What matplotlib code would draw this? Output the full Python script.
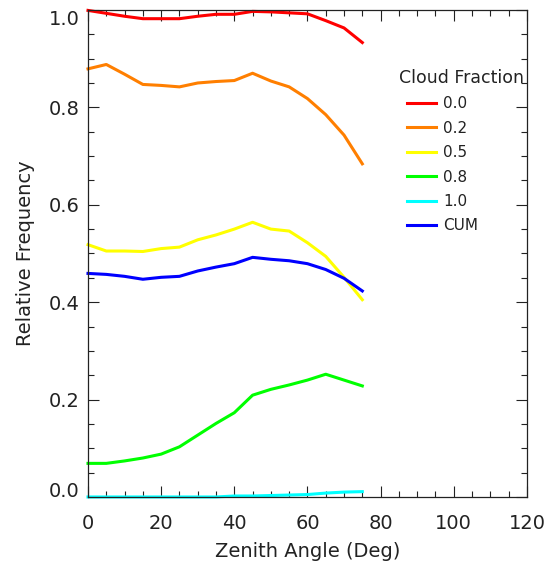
import matplotlib
matplotlib.use("Agg")
import matplotlib.pyplot as plt
from matplotlib.ticker import MultipleLocator

zenith = [0, 5, 10, 15, 20, 25, 30, 35, 40, 45, 50, 55, 60, 65, 70, 75]
cf_00 = [0.999, 0.993, 0.987, 0.982, 0.982, 0.982, 0.987, 0.991, 0.991, 0.997, 0.996, 0.994, 0.992, 0.978, 0.963, 0.933]
cf_02 = [0.879, 0.888, 0.868, 0.847, 0.845, 0.842, 0.850, 0.853, 0.855, 0.870, 0.854, 0.842, 0.818, 0.785, 0.743, 0.684]
cf_05 = [0.518, 0.505, 0.505, 0.504, 0.510, 0.513, 0.528, 0.538, 0.550, 0.564, 0.550, 0.546, 0.522, 0.494, 0.451, 0.405]
cf_08 = [0.069, 0.069, 0.074, 0.080, 0.088, 0.103, 0.127, 0.151, 0.173, 0.209, 0.221, 0.230, 0.240, 0.252, 0.240, 0.228]
cf_10 = [0.000, 0.000, 0.000, 0.000, 0.000, 0.000, 0.000, 0.000, 0.002, 0.002, 0.003, 0.004, 0.005, 0.008, 0.010, 0.011]
cf_cum = [0.459, 0.457, 0.453, 0.447, 0.451, 0.453, 0.464, 0.472, 0.479, 0.492, 0.488, 0.485, 0.479, 0.467, 0.449, 0.423]

labels = ["0.0", "0.2", "0.5", "0.8", "1.0", "CUM"]
colors = ["#ff0000", "#ff7f00", "#ffff00", "#00ff00", "#00ffff", "#0000ff"]
series = [cf_00, cf_02, cf_05, cf_08, cf_10, cf_cum]

y_ticks = [0.0, 0.2, 0.4, 0.6, 0.8, 1.0]
y_ticklabels = ["0.0", "0.2", "0.4", "0.6", "0.8", "1.0"]
x_ticks = [0, 20, 40, 60, 80, 100, 120]
x_ticklabels = ["0", "20", "40", "60", "80", "100", "120"]

plt.rcParams['font.family'] = ['DejaVu Sans']
fig = plt.figure(figsize=(5.5, 5.67), dpi=100)
ax = fig.add_axes([0.16, 0.1235, 0.798, 0.859])

for y, c, l in zip(series, colors, labels):
    ax.plot(zenith, y, color=c, lw=2.2, label=l, clip_on=False, solid_joinstyle='round')

ax.set_xlim(0, 120)
ax.set_ylim(0, 1.0)
ax.set_xticks(x_ticks)
ax.set_xticklabels(x_ticklabels)
ax.set_yticks(y_ticks)
ax.set_yticklabels(y_ticklabels)
ax.xaxis.set_minor_locator(MultipleLocator(5))
ax.yaxis.set_minor_locator(MultipleLocator(0.05))
ax.tick_params(which='both', direction='in', top=True, right=True, width=0.8, color='#222222')
ax.tick_params(which='major', length=8, labelsize=14, labelcolor='#222222')
ax.tick_params(axis='x', which='major', pad=12)
ax.tick_params(axis='y', which='major', pad=6)
ax.tick_params(which='minor', length=4)
for s in ax.spines.values():
    s.set_linewidth(0.9)
    s.set_color('#222222')
ylabs = ax.get_yticklabels()
ylabs[0].set_va('baseline')
ylabs[-1].set_va('top')

ax.set_xlabel("Zenith Angle (Deg)", fontsize=14, labelpad=7, color='#222222')
ax.set_ylabel("Relative Frequency", fontsize=14, labelpad=10, color='#222222')

ax.text(0.708, 0.861, "Cloud Fraction", transform=ax.transAxes, fontsize=12.5,
        ha='left', va='center', color='#222222')
leg = ax.legend(loc='upper left', bbox_to_anchor=(0.727, 0.823),
                frameon=False, fontsize=11, handlelength=1.9, borderpad=0,
                handletextpad=0.45, labelspacing=0.62, borderaxespad=0)
plt.setp(leg.get_lines(), linewidth=2.2)
for t in leg.get_texts():
    t.set_color('#222222')

fig.savefig("out.png", dpi=100)
